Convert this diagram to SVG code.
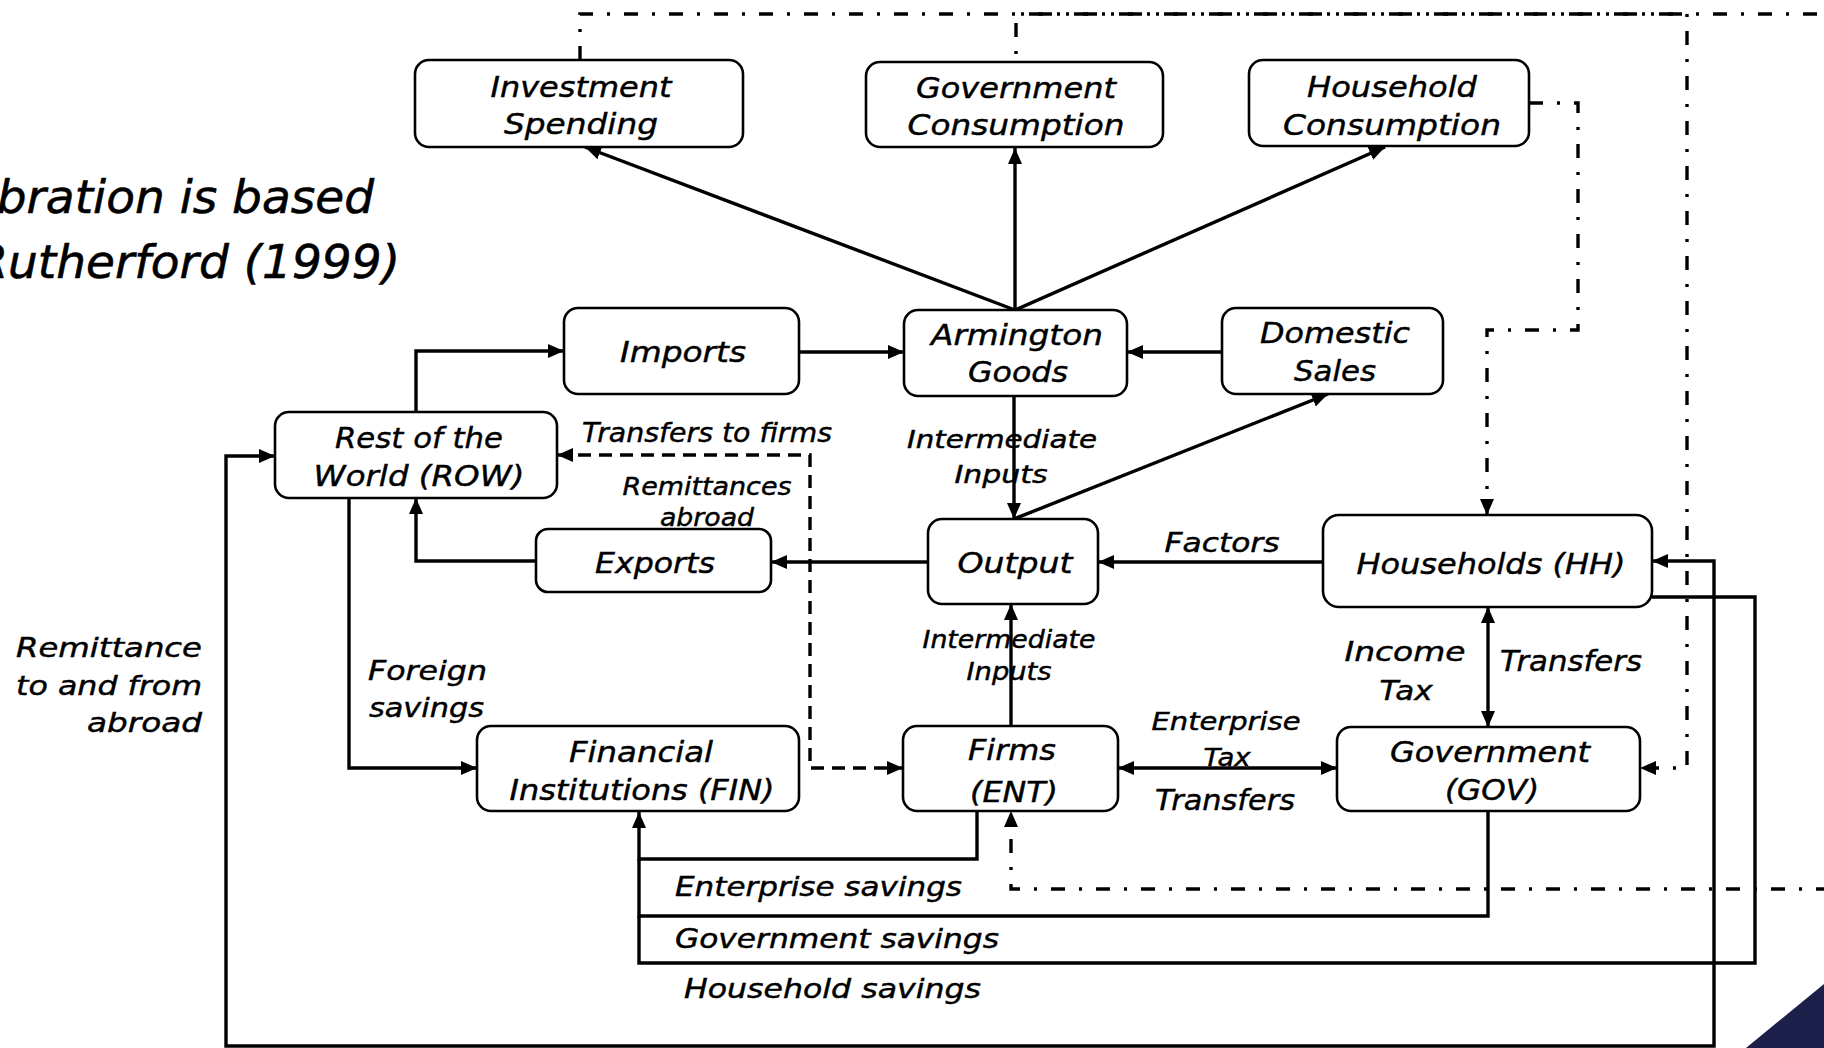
<svg xmlns="http://www.w3.org/2000/svg" width="1824" height="1048" viewBox="0 0 1824 1048">
<style>
.bg{fill:#fff}
.box{fill:#fff;stroke:#000;stroke-width:2.6}
.t{font-family:"DejaVu Sans","Liberation Sans",sans-serif;font-style:italic;fill:#000;stroke:#000;stroke-width:0.45;text-anchor:middle}
.n{font-size:29px}
.e{font-size:27px}
.s{font-size:24px}
.l{text-anchor:start}
.r{text-anchor:end}
.ttl{font-size:47px;text-anchor:end;stroke-width:0.6}
.ln{fill:none;stroke:#000;stroke-width:3.4}
.dash{stroke-dasharray:13 8}
.dd{stroke-dasharray:14 14 3 14}
</style>
<defs>
<marker id="ah" markerUnits="userSpaceOnUse" markerWidth="16" markerHeight="14" refX="16" refY="7" orient="auto-start-reverse">
<path d="M0,0 L16,7 L0,14 z" fill="#000"/>
</marker>
</defs>
<rect class="bg" x="0" y="0" width="1824" height="1048"/>

<g id="title">
<text class="t ttl" x="374" y="213">bration is based</text>
<text class="t ttl" x="400" y="278">Rutherford (1999)</text>
</g>

<g id="connectors">
<path class="ln" d="M1015,310 L585,147" marker-end="url(#ah)"/>
<path class="ln" d="M1015,310 L1015,148" marker-end="url(#ah)"/>
<path class="ln" d="M1015,310 L1385,147" marker-end="url(#ah)"/>
<path class="ln" d="M799,352 L904,352" marker-end="url(#ah)"/>
<path class="ln" d="M1222,352 L1127,352" marker-end="url(#ah)"/>
<path class="ln" d="M416,412 L416,351 L564,351" marker-end="url(#ah)"/>
<path class="ln" d="M1014,396 L1014,519" marker-end="url(#ah)"/>
<path class="ln" d="M1014,519 L1328,394" marker-end="url(#ah)"/>
<path class="ln" d="M928,562 L771,562" marker-end="url(#ah)"/>
<path class="ln" d="M536,561 L416,561 L416,498" marker-end="url(#ah)"/>
<path class="ln" d="M1323,562 L1098,562" marker-end="url(#ah)"/>
<path class="ln" d="M1011,726 L1011,604" marker-end="url(#ah)"/>
<path class="ln" d="M1118,768 L1337,768" marker-start="url(#ah)" marker-end="url(#ah)"/>
<path class="ln" d="M1488,607 L1488,727" marker-start="url(#ah)" marker-end="url(#ah)"/>
<path class="ln" d="M349,498 L349,768 L477,768" marker-end="url(#ah)"/>
<path class="ln" d="M977,811 L977,859 L639,859 L639,812" marker-end="url(#ah)"/>
<path class="ln" d="M1488,811 L1488,916 L639,916 L639,859"/>
<path class="ln" d="M1652,597 L1755,597 L1755,963 L639,963 L639,916"/>
<path class="ln" d="M1652,561 L1714,561 L1714,1046 L226,1046 L226,456 L275,456" marker-start="url(#ah)" marker-end="url(#ah)"/>
<path class="ln dash" d="M557,455 L810,455 L810,768 L903,768" marker-start="url(#ah)" marker-end="url(#ah)"/>
<path class="ln dd" d="M580,60 L580,14 L1687,14 L1687,768 L1640,768" marker-end="url(#ah)"/>
<path class="ln dd" d="M1016,62 L1016,14 L1830,14" style="stroke-dashoffset:20"/>
<path class="ln dd" d="M1529,103 L1578,103 L1578,330 L1487,330 L1487,515" marker-end="url(#ah)"/>
<path class="ln dd" d="M1830,889 L1011,889 L1011,811" marker-end="url(#ah)"/>
</g>

<g id="edge-labels">
<text class="t e" x="707" y="442" textLength="250" lengthAdjust="spacingAndGlyphs">Transfers to firms</text>
<text class="t s" x="707" y="495" textLength="169" lengthAdjust="spacingAndGlyphs">Remittances</text>
<text class="t s" x="707" y="526" textLength="94" lengthAdjust="spacingAndGlyphs">abroad</text>
<text class="t s" x="1002" y="448" textLength="190" lengthAdjust="spacingAndGlyphs">Intermediate</text>
<text class="t s" x="1001" y="483" textLength="93" lengthAdjust="spacingAndGlyphs">Inputs</text>
<text class="t s" x="1009" y="648" textLength="173" lengthAdjust="spacingAndGlyphs">Intermediate</text>
<text class="t s" x="1009" y="680" textLength="85" lengthAdjust="spacingAndGlyphs">Inputs</text>
<text class="t e" x="1222" y="552" textLength="115" lengthAdjust="spacingAndGlyphs">Factors</text>
<text class="t s" x="1226" y="730" textLength="149" lengthAdjust="spacingAndGlyphs">Enterprise</text>
<text class="t s" x="1227" y="766" textLength="47" lengthAdjust="spacingAndGlyphs">Tax</text>
<text class="t n" x="1225" y="810" textLength="140" lengthAdjust="spacingAndGlyphs">Transfers</text>
<text class="t e" x="1405" y="661" textLength="121" lengthAdjust="spacingAndGlyphs">Income</text>
<text class="t e" x="1406" y="700" textLength="53" lengthAdjust="spacingAndGlyphs">Tax</text>
<text class="t n" x="1571" y="671" textLength="142" lengthAdjust="spacingAndGlyphs">Transfers</text>
<text class="t e l" x="368" y="680" textLength="119" lengthAdjust="spacingAndGlyphs">Foreign</text>
<text class="t e l" x="369" y="717" textLength="115" lengthAdjust="spacingAndGlyphs">savings</text>
<text class="t e r" x="202" y="657" textLength="186" lengthAdjust="spacingAndGlyphs">Remittance</text>
<text class="t e r" x="202" y="695" textLength="186" lengthAdjust="spacingAndGlyphs">to and from</text>
<text class="t e r" x="202" y="732" textLength="115" lengthAdjust="spacingAndGlyphs">abroad</text>
<text class="t e l" x="675" y="896" textLength="287" lengthAdjust="spacingAndGlyphs">Enterprise savings</text>
<text class="t e l" x="675" y="948" textLength="324" lengthAdjust="spacingAndGlyphs">Government savings</text>
<text class="t e l" x="684" y="998" textLength="297" lengthAdjust="spacingAndGlyphs">Household savings</text>
</g>

<g id="investment-spending">
<rect class="box" x="415" y="60" width="328" height="87" rx="14"/>
<text class="t n" x="581" y="97" textLength="181" lengthAdjust="spacingAndGlyphs">Investment</text>
<text class="t n" x="581" y="134" textLength="154" lengthAdjust="spacingAndGlyphs">Spending</text>
</g>
<g id="government-consumption">
<rect class="box" x="866" y="62" width="297" height="85" rx="14"/>
<text class="t n" x="1016" y="98" textLength="200" lengthAdjust="spacingAndGlyphs">Government</text>
<text class="t n" x="1016" y="135" textLength="217" lengthAdjust="spacingAndGlyphs">Consumption</text>
</g>
<g id="household-consumption">
<rect class="box" x="1249" y="60" width="280" height="86" rx="14"/>
<text class="t n" x="1392" y="97" textLength="170" lengthAdjust="spacingAndGlyphs">Household</text>
<text class="t n" x="1392" y="135" textLength="218" lengthAdjust="spacingAndGlyphs">Consumption</text>
</g>
<g id="imports">
<rect class="box" x="564" y="308" width="235" height="86" rx="14"/>
<text class="t n" x="683" y="362" textLength="126" lengthAdjust="spacingAndGlyphs">Imports</text>
</g>
<g id="armington-goods">
<rect class="box" x="904" y="310" width="223" height="86" rx="14"/>
<text class="t n" x="1017" y="345" textLength="172" lengthAdjust="spacingAndGlyphs">Armington</text>
<text class="t n" x="1018" y="382" textLength="100" lengthAdjust="spacingAndGlyphs">Goods</text>
</g>
<g id="domestic-sales">
<rect class="box" x="1222" y="308" width="221" height="86" rx="14"/>
<text class="t n" x="1335" y="343" textLength="150" lengthAdjust="spacingAndGlyphs">Domestic</text>
<text class="t n" x="1335" y="381" textLength="82" lengthAdjust="spacingAndGlyphs">Sales</text>
</g>
<g id="rest-of-world">
<rect class="box" x="275" y="412" width="282" height="86" rx="14"/>
<text class="t n" x="419" y="448" textLength="168" lengthAdjust="spacingAndGlyphs">Rest of the</text>
<text class="t n" x="419" y="486" textLength="211" lengthAdjust="spacingAndGlyphs">World (ROW)</text>
</g>
<g id="exports">
<rect class="box" x="536" y="529" width="235" height="63" rx="12"/>
<text class="t n" x="655" y="573" textLength="120" lengthAdjust="spacingAndGlyphs">Exports</text>
</g>
<g id="output">
<rect class="box" x="928" y="519" width="170" height="85" rx="14"/>
<text class="t n" x="1015" y="573" textLength="115" lengthAdjust="spacingAndGlyphs">Output</text>
</g>
<g id="households">
<rect class="box" x="1323" y="515" width="329" height="92" rx="16"/>
<text class="t n" x="1491" y="574" textLength="269" lengthAdjust="spacingAndGlyphs">Households (HH)</text>
</g>
<g id="financial-institutions">
<rect class="box" x="477" y="726" width="322" height="85" rx="14"/>
<text class="t n" x="641" y="762" textLength="144" lengthAdjust="spacingAndGlyphs">Financial</text>
<text class="t n" x="642" y="800" textLength="265" lengthAdjust="spacingAndGlyphs">Institutions (FIN)</text>
</g>
<g id="firms">
<rect class="box" x="903" y="726" width="215" height="85" rx="14"/>
<text class="t n" x="1012" y="760" textLength="88" lengthAdjust="spacingAndGlyphs">Firms</text>
<text class="t n" x="1014" y="802" textLength="88" lengthAdjust="spacingAndGlyphs">(ENT)</text>
</g>
<g id="government">
<rect class="box" x="1337" y="727" width="303" height="84" rx="14"/>
<text class="t n" x="1490" y="762" textLength="200" lengthAdjust="spacingAndGlyphs">Government</text>
<text class="t n" x="1492" y="800" textLength="94" lengthAdjust="spacingAndGlyphs">(GOV)</text>
</g>

<polygon id="corner" points="1746,1048 1824,984 1824,1048" fill="#1b1f4a"/>
</svg>
